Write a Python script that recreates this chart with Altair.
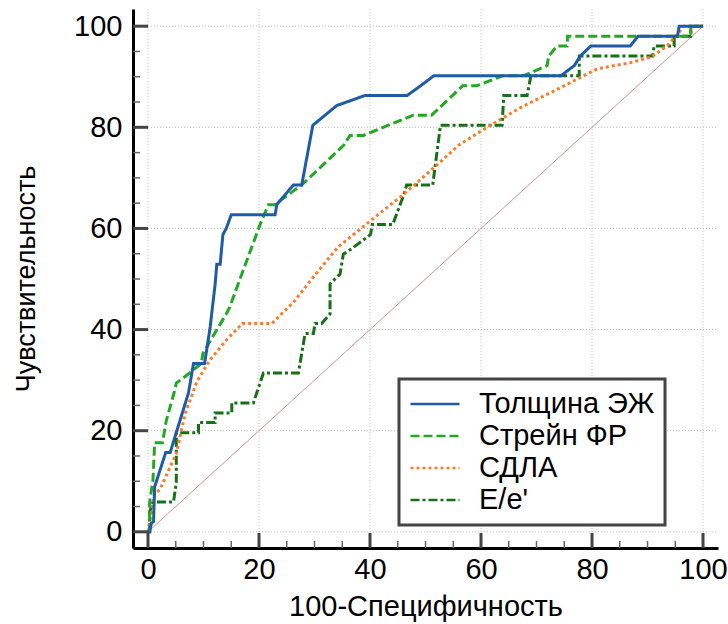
import altair as alt
import pandas as pd

# ---------------- data ----------------
names = ["Толщина ЭЖ", "Стрейн ФР", "СДЛА", "E/e'"]
colors = ["#1f5ba6", "#22a822", "#ff7a28", "#167016"]
dashes = [[1, 0], [9, 4], [3, 3], [9, 3, 3, 3]]

thick_x = [0, 0.3, 0.6, 1.0, 1.2, 3.2, 4.0, 7.3, 8.2, 10.2, 11.2, 12.1, 12.4, 13.0, 13.5,
           14.1, 15.0, 22.9, 23.2, 26.2, 27.7, 29.7, 34.0, 39.1, 46.7, 49.1, 51.5, 74.4,
           76.8, 77.9, 79.8, 86.9, 88.3, 95.4, 95.7, 100]
thick_y = [0, 0, 1.7, 2.0, 8.9, 15.7, 15.7, 27.5, 33.3, 33.3, 40.5, 49.0, 52.9, 52.9, 58.8,
           60.0, 62.7, 62.7, 64.7, 68.6, 68.6, 80.4, 84.3, 86.3, 86.3, 88.2, 90.2, 90.2,
           92.2, 94.1, 96.1, 96.1, 98.0, 98.0, 100, 100]

strain_x = [0, 0.3, 0.3, 0.9, 1.2, 2.6, 3.3, 4.7, 5.1, 7.5, 9.6, 9.9, 14.1, 14.7, 20.2,
            21.7, 22.8, 27.7, 35.3, 36.4, 38.8, 47.8, 51.1, 56.7, 59.2, 63.9, 67.7, 71.9,
            72.2, 73.7, 75.5, 75.6, 97.8, 97.8, 100]
strain_y = [0, 0, 5.9, 10.3, 17.6, 17.6, 22.0, 27.5, 29.4, 31.4, 33.3, 35.3, 43.1, 44.4, 60.8,
            64.7, 64.7, 68.6, 76.5, 78.4, 78.4, 82.4, 82.4, 88.2, 88.2, 90.2, 90.2, 92.2,
            94.1, 96.1, 96.1, 98.0, 98.0, 100, 100]

sdla_x = [0, 1.2, 2.1, 5.1, 6.7, 8.8, 11.1, 14.1, 17.0, 22.3, 26.2, 29.8, 34.2, 39.5,
          46.1, 51.0, 56.0, 61.1, 67.1, 74.6, 81.0, 87.0, 90.8, 93.6, 95.4, 96.5, 100]
sdla_y = [0, 7.6, 8.3, 15.5, 23.4, 29.7, 33.9, 37.9, 41.2, 41.2, 45.4, 50.4, 56.3, 61.0,
          66.8, 71.5, 76.5, 80.0, 83.9, 88.0, 91.6, 92.8, 94.0, 96.2, 98.4, 100, 100]

ee_x = [0, 0.3, 0.3, 0.9, 4.6, 5.1, 5.1, 9.1, 9.1, 12.1, 12.1, 15.1, 15.1, 19.0, 19.6,
        20.8, 27.1, 28.3, 29.8, 30.1, 31.3, 32.8, 32.8, 34.6, 35.2, 36.7, 40.1, 40.4,
        44.1, 46.1, 46.6, 51.3, 52.7, 63.8, 64.1, 68.3, 69.0, 77.7, 77.7, 90.9, 91.2,
        94.8, 94.8, 97.8, 97.8, 100]
ee_y = [0, 0, 3.9, 5.9, 5.9, 9.8, 19.6, 19.6, 21.6, 21.6, 23.5, 23.5, 25.5, 25.5, 27.5,
        31.4, 31.4, 39.2, 39.2, 41.2, 41.2, 43.1, 49.0, 51.0, 54.9, 56.0, 58.8, 60.8,
        60.8, 66.7, 68.6, 68.6, 80.4, 80.4, 86.3, 86.3, 90.2, 90.2, 94.1, 94.1, 96.1,
        96.1, 98.0, 98.0, 100, 100]

diag_x = [0, 100]
diag_y = [0, 100]

major_ticks = [0, 20, 40, 60, 80, 100]
minor_ticks = [5, 10, 15, 25, 30, 35, 45, 50, 55, 65, 70, 75, 85, 90, 95]

x_title = "100-Специфичность"
y_title = "Чувствительность"

# ---------------- tables ----------------
rows = []
for name, xs_, ys_ in [(names[3], ee_x, ee_y), (names[2], sdla_x, sdla_y),
                       (names[1], strain_x, strain_y), (names[0], thick_x, thick_y)]:
    for i, (a, b) in enumerate(zip(xs_, ys_)):
        rows.append({"series": name, "x": a, "y": b, "i": i})
curves = pd.DataFrame(rows)
diag = pd.DataFrame({"x": diag_x, "y": diag_y, "i": [0, 1]})
major = pd.DataFrame({"v": major_ticks})
minor = pd.DataFrame({"v": minor_ticks})

W, H = 585, 539
FONT = "Liberation Sans"

xs = alt.Scale(domain=[-2.7, 102.7], nice=False, zero=False)
ys = alt.Scale(domain=[-3.2, 103.4], nice=False, zero=False)

ax_x = alt.Axis(values=major_ticks, title=x_title, grid=False, ticks=False,
                domainColor="black", domainWidth=3, labelPadding=7, titlePadding=8,
                labelFlush=False, labelFontSize=29, titleFontSize=29)
ax_y = alt.Axis(values=major_ticks, title=y_title, grid=False, ticks=False,
                domainColor="black", domainWidth=3, labelPadding=11, titlePadding=33,
                labelFlush=False, labelFontSize=29, titleFontSize=27)

grid_color = "#bdbdbd"
vgrid = alt.Chart(major).mark_rule(color=grid_color, strokeWidth=1, strokeDash=[1, 2]).encode(
    x=alt.X("v:Q", scale=xs, axis=ax_x),
    y=alt.YDatum(0, scale=ys, axis=ax_y),
    y2=alt.value(0),
)
hgrid = alt.Chart(major).mark_rule(color=grid_color, strokeWidth=1, strokeDash=[1, 2]).encode(
    y=alt.Y("v:Q", scale=ys, axis=ax_y),
    x=alt.XDatum(0, scale=xs, axis=ax_x),
    x2=alt.value(W),
)

diag_line = alt.Chart(diag).mark_line(color="#d49090", strokeWidth=1).encode(
    x=alt.X("x:Q", scale=xs, axis=ax_x),
    y=alt.Y("y:Q", scale=ys, axis=ax_y),
    order="i:Q",
)

leg = alt.Legend(title=None, orient="none", legendX=266, legendY=370,
                 symbolType="stroke", symbolSize=2401, symbolStrokeWidth=2.5,
                 labelFontSize=29, labelFont=FONT, labelColor="black", labelOffset=18,
                 labelLimit=500, clipHeight=30, rowPadding=2, padding=10,
                 strokeColor="#444444", fillColor="white")

lines = alt.Chart(curves).mark_line(strokeWidth=3).encode(
    x=alt.X("x:Q", scale=xs, axis=ax_x),
    y=alt.Y("y:Q", scale=ys, axis=ax_y),
    color=alt.Color("series:N", scale=alt.Scale(domain=names, range=colors), legend=leg),
    strokeDash=alt.StrokeDash("series:N", scale=alt.Scale(domain=names, range=dashes), legend=leg),
    detail="series:N",
    order="i:Q",
)

# tick marks pointing inward from the axis lines
ytick_major = alt.Chart(major).mark_rule(color="#444444", strokeWidth=3).encode(
    y=alt.Y("v:Q", scale=ys, axis=ax_y), x=alt.value(0), x2=alt.value(15))
ytick_minor = alt.Chart(minor).mark_rule(color="#666666", strokeWidth=1.5).encode(
    y=alt.Y("v:Q", scale=ys, axis=ax_y), x=alt.value(0), x2=alt.value(7))
xtick_major = alt.Chart(major).mark_rule(color="#444444", strokeWidth=3).encode(
    x=alt.X("v:Q", scale=xs, axis=ax_x), y=alt.value(H), y2=alt.value(H - 15))
xtick_minor = alt.Chart(minor).mark_rule(color="#666666", strokeWidth=1.5).encode(
    x=alt.X("v:Q", scale=xs, axis=ax_x), y=alt.value(H), y2=alt.value(H - 7))

chart = alt.layer(vgrid, hgrid, diag_line, lines,
                  ytick_major, ytick_minor, xtick_major, xtick_minor).properties(
    width=W, height=H,
    autosize=alt.AutoSizeParams(type="none"),
    padding={"left": 133, "top": 9, "right": 10, "bottom": 76},
    background="white",
).configure_view(stroke=None).configure_axis(
    labelFont=FONT, labelColor="black",
    titleFont=FONT, titleFontWeight="normal", titleColor="black",
).configure_legend(strokeWidth=3)

chart.save("out.html", embed_options={"renderer": "svg", "actions": False})
